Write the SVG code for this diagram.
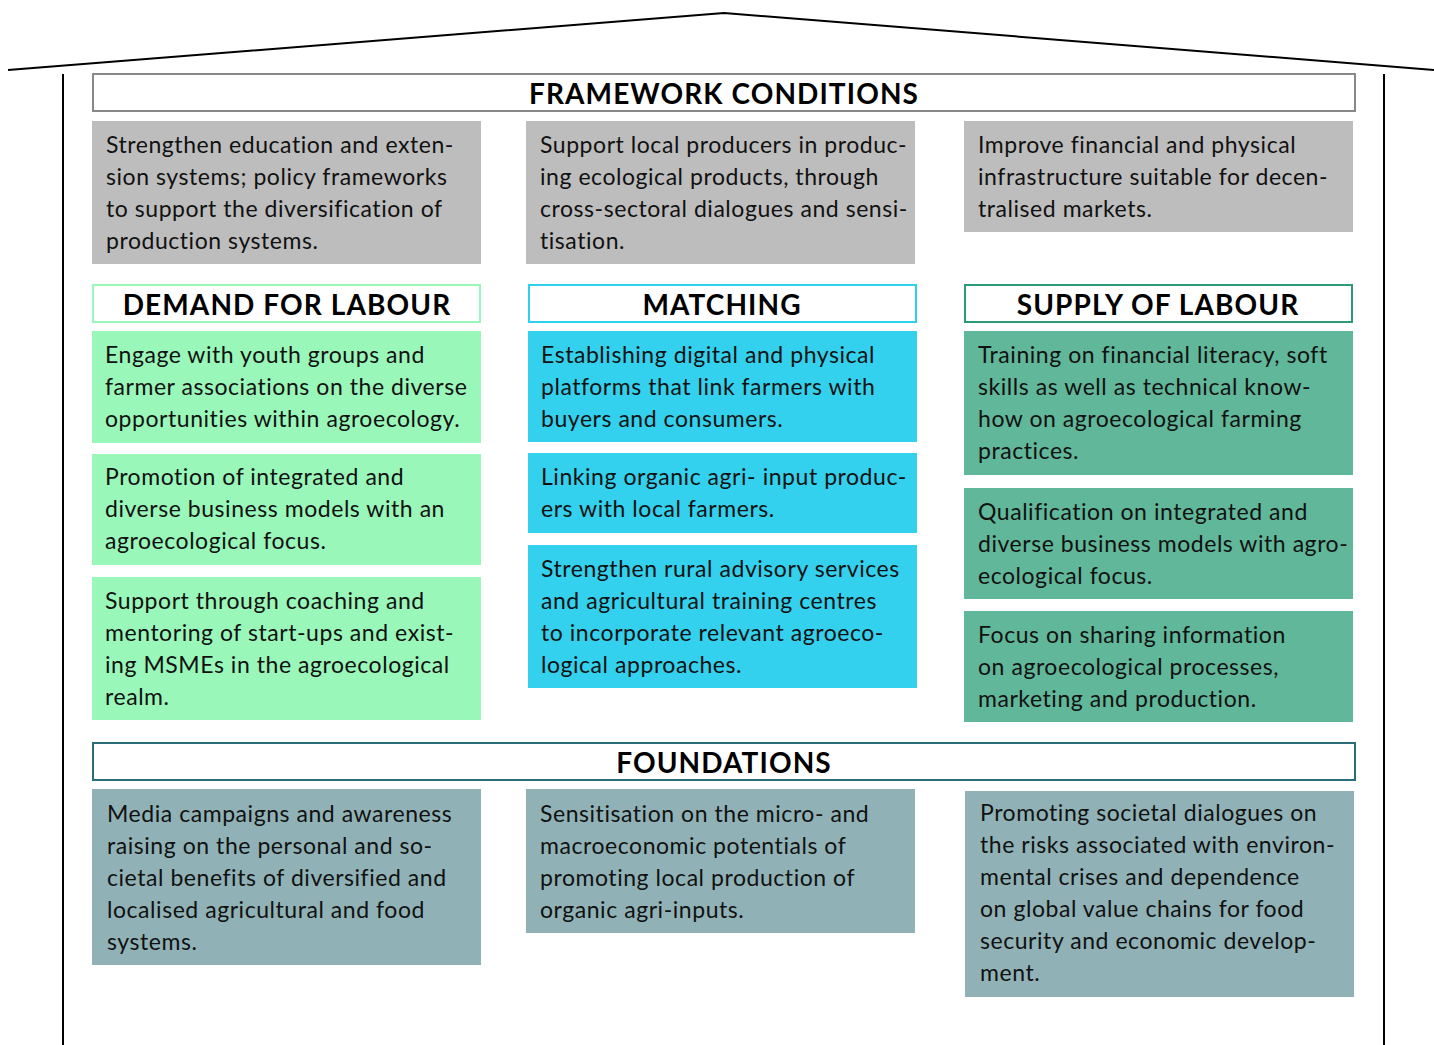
<svg xmlns="http://www.w3.org/2000/svg" width="1434" height="1045" viewBox="0 0 1434 1045">
<style>
.t{font-family:Lato,"Noto Sans",sans-serif;font-size:23px;letter-spacing:0.55px;fill:#111}
.h{font-family:Lato,"Noto Sans",sans-serif;font-size:28px;letter-spacing:1.1px;font-weight:bold;fill:#000;text-anchor:middle}
.fw{fill:#bdbdbd}.dm{fill:#99f7b9}.mt{fill:#33d1ee}.sp{fill:#61b799}.fd{fill:#90b2b6}
.hb{fill:#fff;stroke-width:2}
</style>
<rect width="1434" height="1045" fill="#fff"/>
<g id="house" fill="none" stroke="#000" stroke-width="2">
<polyline points="8,70 724,13 1434,70"/>
<line x1="63" y1="74" x2="63" y2="1045"/>
<line x1="1384" y1="74" x2="1384" y2="1045"/>
</g>
<g id="framework-header"><rect class="hb" x="93" y="74" width="1262" height="37" stroke="#888"/><text class="h" x="724" y="104">FRAMEWORK CONDITIONS</text></g>
<g id="fw1"><rect class="fw" x="92" y="121" width="389" height="143"/><text class="t" x="106" y="153"><tspan x="106">Strengthen education and exten-</tspan><tspan x="106" dy="32">sion systems; policy frameworks</tspan><tspan x="106" dy="32">to support the diversification of</tspan><tspan x="106" dy="32">production systems.</tspan></text></g>
<g id="fw2"><rect class="fw" x="526" y="121" width="389" height="143"/><text class="t" x="540" y="153"><tspan x="540">Support local producers in produc-</tspan><tspan x="540" dy="32">ing ecological products, through</tspan><tspan x="540" dy="32">cross-sectoral dialogues and sensi-</tspan><tspan x="540" dy="32">tisation.</tspan></text></g>
<g id="fw3"><rect class="fw" x="964" y="121" width="389" height="111"/><text class="t" x="978" y="153"><tspan x="978">Improve financial and physical</tspan><tspan x="978" dy="32">infrastructure suitable for decen-</tspan><tspan x="978" dy="32">tralised markets.</tspan></text></g>
<g id="demand-header"><rect class="hb" x="93" y="285" width="387" height="37" stroke="#99f7b9"/><text class="h" x="287" y="315">DEMAND FOR LABOUR</text></g>
<g id="matching-header"><rect class="hb" x="529" y="285" width="387" height="37" stroke="#2fd0ee"/><text class="h" x="722" y="315">MATCHING</text></g>
<g id="supply-header"><rect class="hb" x="965" y="285" width="387" height="37" stroke="#2a9a78"/><text class="h" x="1158" y="315">SUPPLY OF LABOUR</text></g>
<g id="dm1"><rect class="dm" x="92" y="331" width="389" height="112"/><text class="t" x="105" y="363"><tspan x="105">Engage with youth groups and</tspan><tspan x="105" dy="32">farmer associations on the diverse</tspan><tspan x="105" dy="32">opportunities within agroecology.</tspan></text></g>
<g id="dm2"><rect class="dm" x="92" y="454" width="389" height="111"/><text class="t" x="105" y="485"><tspan x="105">Promotion of integrated and</tspan><tspan x="105" dy="32">diverse business models with an</tspan><tspan x="105" dy="32">agroecological focus.</tspan></text></g>
<g id="dm3"><rect class="dm" x="92" y="577" width="389" height="143"/><text class="t" x="105" y="609"><tspan x="105">Support through coaching and</tspan><tspan x="105" dy="32">mentoring of start-ups and exist-</tspan><tspan x="105" dy="32">ing MSMEs in the agroecological</tspan><tspan x="105" dy="32">realm.</tspan></text></g>
<g id="mt1"><rect class="mt" x="528" y="331" width="389" height="111"/><text class="t" x="541" y="363"><tspan x="541">Establishing digital and physical</tspan><tspan x="541" dy="32">platforms that link farmers with</tspan><tspan x="541" dy="32">buyers and consumers.</tspan></text></g>
<g id="mt2"><rect class="mt" x="528" y="453" width="389" height="80"/><text class="t" x="541" y="485"><tspan x="541">Linking organic agri- input produc-</tspan><tspan x="541" dy="32">ers with local farmers.</tspan></text></g>
<g id="mt3"><rect class="mt" x="528" y="545" width="389" height="143"/><text class="t" x="541" y="577"><tspan x="541">Strengthen rural advisory services</tspan><tspan x="541" dy="32">and agricultural training centres</tspan><tspan x="541" dy="32">to incorporate relevant agroeco-</tspan><tspan x="541" dy="32">logical approaches.</tspan></text></g>
<g id="sp1"><rect class="sp" x="964" y="331" width="389" height="144"/><text class="t" x="978" y="363"><tspan x="978">Training on financial literacy, soft</tspan><tspan x="978" dy="32">skills as well as technical know-</tspan><tspan x="978" dy="32">how on agroecological farming</tspan><tspan x="978" dy="32">practices.</tspan></text></g>
<g id="sp2"><rect class="sp" x="964" y="488" width="389" height="111"/><text class="t" x="978" y="520"><tspan x="978">Qualification on integrated and</tspan><tspan x="978" dy="32">diverse business models with agro-</tspan><tspan x="978" dy="32">ecological focus.</tspan></text></g>
<g id="sp3"><rect class="sp" x="964" y="611" width="389" height="111"/><text class="t" x="978" y="643"><tspan x="978">Focus on sharing information</tspan><tspan x="978" dy="32">on agroecological processes,</tspan><tspan x="978" dy="32">marketing and production.</tspan></text></g>
<g id="foundations-header"><rect class="hb" x="93" y="743" width="1262" height="37" stroke="#2c6e78"/><text class="h" x="724" y="773">FOUNDATIONS</text></g>
<g id="fd1"><rect class="fd" x="92" y="789" width="389" height="176"/><text class="t" x="107" y="822"><tspan x="107">Media campaigns and awareness</tspan><tspan x="107" dy="32">raising on the personal and so-</tspan><tspan x="107" dy="32">cietal benefits of diversified and</tspan><tspan x="107" dy="32">localised agricultural and food</tspan><tspan x="107" dy="32">systems.</tspan></text></g>
<g id="fd2"><rect class="fd" x="526" y="789" width="389" height="144"/><text class="t" x="540" y="822"><tspan x="540">Sensitisation on the micro- and</tspan><tspan x="540" dy="32">macroeconomic potentials of</tspan><tspan x="540" dy="32">promoting local production of</tspan><tspan x="540" dy="32">organic agri-inputs.</tspan></text></g>
<g id="fd3"><rect class="fd" x="965" y="791" width="389" height="206"/><text class="t" x="980" y="821"><tspan x="980">Promoting societal dialogues on</tspan><tspan x="980" dy="32">the risks associated with environ-</tspan><tspan x="980" dy="32">mental crises and dependence</tspan><tspan x="980" dy="32">on global value chains for food</tspan><tspan x="980" dy="32">security and economic develop-</tspan><tspan x="980" dy="32">ment.</tspan></text></g>
</svg>
